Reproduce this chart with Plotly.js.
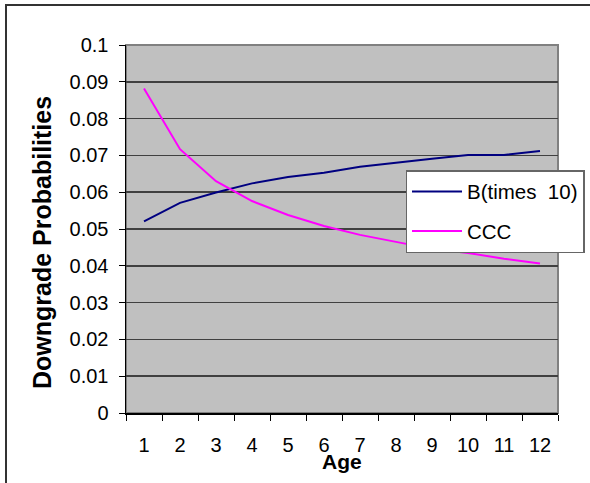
<!DOCTYPE html>
<html>
<head>
<meta charset="utf-8">
<script src="https://cdn.plot.ly/plotly-3.0.1.min.js"></script>
<style>
  html, body { margin: 0; padding: 0; background: #fff; overflow: hidden; }
  #wrap { position: relative; width: 590px; height: 483px; }
  #chart { position: absolute; left: 0; top: 0; width: 590px; height: 483px; }
  #frame { position: absolute; left: 5px; top: 4px; width: 700px; height: 700px;
           border-left: 2px solid #333; border-top: 2px solid #333; pointer-events: none; }
</style>
</head>
<body>
<div id="wrap">
  <div id="chart"></div>
  <div id="frame"></div>
</div>
<script>
const ages = ['1','2','3','4','5','6','7','8','9','10','11','12'];
const bTimes10 = [0.0521, 0.0571, 0.0599, 0.0624, 0.0641, 0.0653, 0.0669, 0.0681, 0.0691, 0.0701, 0.0701, 0.0712];
const ccc = [0.0882, 0.0717, 0.0630, 0.0576, 0.0538, 0.0508, 0.0484, 0.0464, 0.0446, 0.0435, 0.0419, 0.0406];
const yTicks = [0, 0.01, 0.02, 0.03, 0.04, 0.05, 0.06, 0.07, 0.08, 0.09, 0.1];
const yTickText = ['0', '0.01', '0.02', '0.03', '0.04', '0.05', '0.06', '0.07', '0.08', '0.09', '0.1'];
const xTitle = 'Age';
const yTitle = 'Downgrade Probabilities';

const font = 'Liberation Sans, Arial, sans-serif';

const traces = [
  { x: ages, y: bTimes10, type: 'scatter', mode: 'lines', name: 'B(times  10)',
    legendgroup: 'b', line: { color: '#000080', width: 2 } },
  { x: ages, y: ccc, type: 'scatter', mode: 'lines', name: 'CCC',
    legendgroup: 'c', line: { color: '#FF00FF', width: 2 } }
];

const layout = {
  width: 590, height: 483,
  margin: { l: 126, r: 32, t: 45, b: 70, autoexpand: false },
  paper_bgcolor: '#ffffff',
  plot_bgcolor: '#C0C0C0',
  font: { family: font, size: 20, color: '#000' },
  showlegend: true,
  legend: {
    x: 0.647, y: 0.66, xanchor: 'left', yanchor: 'top',
    bgcolor: '#ffffff', bordercolor: '#666666', borderwidth: 1.5,
    font: { family: font, size: 20.5, color: '#000' },
    traceorder: 'grouped', tracegroupgap: 10, itemwidth: 50
  },
  xaxis: {
    type: 'category', tickson: 'boundaries', range: [-0.5, 11.5],
    ticks: 'outside', ticklen: 6, tickcolor: '#000', tickwidth: 1,
    showline: true, linecolor: '#000', linewidth: 1.5,
    showgrid: false, zeroline: false,
    tickfont: { family: font, size: 20 },
    ticklabelstandoff: 13,
    automargin: false, fixedrange: true
  },
  yaxis: {
    range: [0, 0.1], tickmode: 'array', tickvals: yTicks, ticktext: yTickText,
    ticks: 'outside', ticklen: 6, tickcolor: '#000', tickwidth: 1,
    showline: true, linecolor: '#000', linewidth: 1.5,
    showgrid: true, gridcolor: '#404040', gridwidth: 1.5, zeroline: false,
    tickfont: { family: font, size: 20 },
    ticklabelstandoff: 6,
    automargin: false, fixedrange: true
  },
  annotations: [
    { text: xTitle, xref: 'paper', yref: 'paper', x: 0.5, y: 0, yshift: -48,
      xanchor: 'center', yanchor: 'middle', showarrow: false,
      font: { family: font, size: 21, weight: 'bold', color: '#000' } },
    { text: yTitle, xref: 'paper', yref: 'paper', x: 0, y: 0.5, xshift: -84, yshift: -14,
      textangle: -90, xanchor: 'center', yanchor: 'middle', showarrow: false,
      font: { family: font, size: 25, weight: 'bold', color: '#000' } }
  ],
  shapes: [
    { type: 'rect', xref: 'paper', yref: 'paper', x0: 0, x1: 1, y0: 0, y1: 1,
      line: { color: '#808080', width: 2 }, layer: 'below' }
  ]
};

Plotly.newPlot('chart', traces, layout, { staticPlot: true, displayModeBar: false });
</script>
</body>
</html>
